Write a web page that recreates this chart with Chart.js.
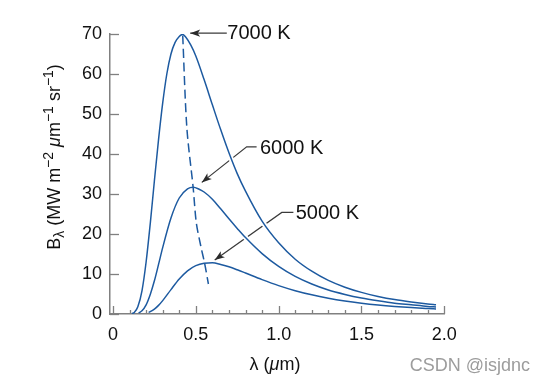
<!DOCTYPE html>
<html><head><meta charset="utf-8">
<script src="https://cdn.jsdelivr.net/npm/chart.js@4/dist/chart.umd.min.js"></script>
<style>html,body{margin:0;padding:0;background:#fff;}canvas{display:block;}</style>
</head><body>
<canvas id="c" width="545" height="385"></canvas>
<script>
// ---- data ----
const lambda7000 = [0.115,0.13,0.15,0.175,0.2,0.225,0.25,0.275,0.3,0.325,0.35,0.375,0.4,0.42,0.44,0.47,0.5,0.55,0.6,0.65,0.7,0.75,0.8,0.9,1.0,1.1,1.2,1.3,1.4,1.5,1.6,1.7,1.8,1.9,1.95];
const b7000 = [0.1,0.45,1.8,5.8,13.0,22.6,33.3,43.6,52.7,60.0,65.0,67.9,69.4,69.9,69.2,67.2,64.5,58.6,52.3,46.1,40.3,35.1,30.7,23.2,17.8,13.7,10.7,8.4,6.7,5.4,4.4,3.6,3.0,2.5,2.3];
const lambda6000 = [0.155,0.175,0.2,0.225,0.25,0.275,0.3,0.35,0.4,0.45,0.485,0.52,0.55,0.6,0.65,0.7,0.75,0.8,0.9,1.0,1.1,1.2,1.3,1.4,1.5,1.6,1.7,1.8,1.9,1.95];
const b6000 = [0.25,0.8,2.3,4.9,8.3,12.4,16.6,24.0,29.0,31.3,31.7,31.2,30.5,28.7,26.3,23.8,21.4,19.1,15.1,11.9,9.4,7.5,6.0,4.9,4.0,3.3,2.7,2.3,1.9,1.75];
const lambda5000 = [0.215,0.225,0.25,0.275,0.3,0.35,0.4,0.45,0.5,0.55,0.6,0.65,0.7,0.75,0.8,0.9,1.0,1.1,1.2,1.3,1.4,1.5,1.6,1.7,1.8,1.9,1.95];
const b5000 = [0.4,0.58,1.22,2.16,3.35,6.1,8.74,10.8,12.1,12.7,12.8,12.4,11.8,11.05,10.24,8.6,7.1,5.83,4.79,3.94,3.25,2.7,2.25,1.89,1.6,1.36,1.25];
const lambdaPeak = [0.421,0.446,0.484,0.503,0.530,0.554,0.576];
const bPeak = [69.6,46.5,31.6,22.8,17.0,12.5,7.5];

const xTickValues = [0,0.5,1.0,1.5,2.0];
const xTickLabels = ['0','0.5','1.0','1.5','2.0'];
const yTickValues = [0,10,20,30,40,50,60,70];
const curveLabels = ['7000 K','6000 K','5000 K'];

// ---- style ----
const FONT = '"Liberation Sans", Arial, Helvetica, sans-serif';
const AXIS_GRAY = '#808080';
const CURVE = '#1d5aa0';
const TEXT = '#111111';

function pts(xs, ys){ return xs.map((x,i)=>({x:x, y:ys[i]})); }

// leader lines (data coordinates) : from label to arrow tip
const leaders = [
  {label:curveLabels[0], text:[0.69,70.2], path:[[0.687,70.2],[0.466,70.2]], halo:false},
  {label:curveLabels[1], text:[0.887,41.3], path:[[0.867,41.8],[0.807,41.8],[0.536,32.9]], halo:true},
  {label:curveLabels[2], text:[1.103,25.2], path:[[1.089,25.4],[1.019,25.4],[0.614,13.5]], halo:true}
];

function richWidth(ctx, parts){ let w=0; parts.forEach(p=>{ctx.font=p.f; w+=ctx.measureText(p.t).width;}); return w; }
function drawRich(ctx, parts, cx, base){
  const w = richWidth(ctx, parts); let x = cx - w/2;
  ctx.textAlign='left'; ctx.textBaseline='alphabetic';
  parts.forEach(p=>{ ctx.font=p.f; ctx.fillText(p.t, x, base + (p.dy||0)); x += ctx.measureText(p.t).width; });
}

const deco = {
  id:'deco',
  beforeDatasetsDraw(chart){
    const ctx = chart.ctx, xs = chart.scales.x, ys = chart.scales.y;
    const P = p => [xs.getPixelForValue(p[0]), ys.getPixelForValue(p[1])];
    ctx.save();
    ctx.strokeStyle = '#3a3a3a'; ctx.lineWidth = 1.2;
    leaders.forEach(L=>{
      const pp = L.path.map(P);
      ctx.beginPath(); ctx.moveTo(pp[0][0], pp[0][1]);
      for (let i=1;i<pp.length;i++) ctx.lineTo(pp[i][0], pp[i][1]);
      ctx.stroke();
    });
    // white gaps where leaders pass under curves
    leaders.forEach(L=>{
      if (!L.halo) return;
      const pp = L.path.map(P);
      const a = pp[pp.length-2], b = pp[pp.length-1];
      const e = [a[0]+(b[0]-a[0])*0.8, a[1]+(b[1]-a[1])*0.8];
      const dx=e[0]-a[0], dy=e[1]-a[1], len=Math.hypot(dx,dy), nx=-dy/len*7, ny=dx/len*7;
      ctx.save();
      ctx.beginPath(); ctx.moveTo(a[0]+nx,a[1]+ny); ctx.lineTo(e[0]+nx,e[1]+ny); ctx.lineTo(e[0]-nx,e[1]-ny); ctx.lineTo(a[0]-nx,a[1]-ny); ctx.closePath(); ctx.clip();
      ctx.strokeStyle='#ffffff'; ctx.lineWidth=5;
      [0,1].forEach(i=>{ const m = chart.getDatasetMeta(i); ctx.beginPath(); m.dataset.path(ctx); ctx.stroke(); });
      ctx.restore();
    });
    ctx.restore();
  },
  afterDatasetsDraw(chart){
    const ctx = chart.ctx, xs = chart.scales.x, ys = chart.scales.y;
    const P = p => [xs.getPixelForValue(p[0]), ys.getPixelForValue(p[1])];
    ctx.save();
    // arrow heads + labels
    leaders.forEach(L=>{
      const pp = L.path.map(P);
      const a = pp[pp.length-2], b = pp[pp.length-1];
      const ang = Math.atan2(b[1]-a[1], b[0]-a[0]);
      const hl = 10, hw = 3.6;
      ctx.fillStyle = '#2a2a2a';
      ctx.beginPath();
      ctx.moveTo(b[0], b[1]);
      ctx.lineTo(b[0]-hl*Math.cos(ang)+hw*Math.sin(ang), b[1]-hl*Math.sin(ang)-hw*Math.cos(ang));
      ctx.lineTo(b[0]-hl*0.75*Math.cos(ang), b[1]-hl*0.75*Math.sin(ang));
      ctx.lineTo(b[0]-hl*Math.cos(ang)-hw*Math.sin(ang), b[1]-hl*Math.sin(ang)+hw*Math.cos(ang));
      ctx.closePath(); ctx.fill();
      const t = P(L.text);
      ctx.fillStyle = TEXT; ctx.font = '20px ' + FONT; ctx.textAlign='left'; ctx.textBaseline='middle';
      ctx.fillText(L.label, t[0], t[1]);
    });
    // inward ticks
    ctx.strokeStyle = AXIS_GRAY; ctx.lineWidth = 1.3;
    const bottom = chart.chartArea.bottom, left = chart.chartArea.left;
    yTickValues.forEach(v=>{ const y = Math.round(ys.getPixelForValue(v))+0.5; ctx.beginPath(); ctx.moveTo(left, y); ctx.lineTo(left+9, y); ctx.stroke(); });
    for (let k=0;k<=20;k++){
      const v = k/10; const x = Math.round(xs.getPixelForValue(v))+0.5;
      const major = (k%5===0);
      ctx.beginPath(); ctx.moveTo(x, bottom); ctx.lineTo(x, bottom-(major?8:4)); ctx.stroke();
    }
    ctx.restore();
  },
  afterDraw(chart){
    const ctx = chart.ctx;
    ctx.save();
    ctx.fillStyle = TEXT;
    // x title
    drawRich(ctx, [
      {t:'\u03BB (', f:'18px '+FONT},
      {t:'\u03BC', f:'italic 18px '+FONT},
      {t:'m)', f:'18px '+FONT}
    ], 275, 369.5);
    // y title (rotated)
    ctx.translate(53, 157); ctx.rotate(-Math.PI/2);
    drawRich(ctx, [
      {t:'B', f:'18px '+FONT},
      {t:'\u03BB', f:'14px '+FONT, dy:4},
      {t:' (MW m', f:'18px '+FONT},
      {t:'\u22122', f:'14px '+FONT, dy:-7},
      {t:' ', f:'18px '+FONT},
      {t:'\u03BC', f:'italic 18px '+FONT},
      {t:'m', f:'18px '+FONT},
      {t:'\u22121', f:'14px '+FONT, dy:-7},
      {t:' sr', f:'18px '+FONT},
      {t:'\u22121', f:'14px '+FONT, dy:-7},
      {t:')', f:'18px '+FONT}
    ], 0, 6.5);
    ctx.restore();
    // watermark
    ctx.save();
    ctx.fillStyle = '#9c9c9c'; ctx.font = '18px ' + FONT; ctx.textAlign='right'; ctx.textBaseline='alphabetic';
    ctx.fillText('CSDN @isjdnc', 530, 371);
    ctx.restore();
  }
};

const lineStyle = {borderColor:CURVE, borderWidth:1.5, pointRadius:0, fill:false, cubicInterpolationMode:'monotone'};

new Chart(document.getElementById('c'), {
  type:'line',
  data:{
    datasets:[
      Object.assign({label:curveLabels[0], data:pts(lambda7000,b7000)}, lineStyle),
      Object.assign({label:curveLabels[1], data:pts(lambda6000,b6000)}, lineStyle),
      Object.assign({label:curveLabels[2], data:pts(lambda5000,b5000)}, lineStyle),
      {label:'peak', data:pts(lambdaPeak,bPeak), borderColor:CURVE, borderWidth:1.5, borderDash:[9,4.5], pointRadius:0, tension:0.3, fill:false}
    ]
  },
  options:{
    responsive:false, animation:false, devicePixelRatio:1,
    layout:{padding:{top:34, right:100.7, bottom:0, left:0}},
    plugins:{legend:{display:false}, tooltip:{enabled:false}, title:{display:false}},
    scales:{
      x:{
        type:'linear', min:-0.018, max:2.0,
        afterBuildTicks: s => { s.ticks = xTickValues.map(v=>({value:v})); },
        afterFit: s => { s.height = 71; },
        grid:{display:false, drawTicks:false},
        border:{display:true, color:AXIS_GRAY, width:1.5},
        ticks:{padding:10, maxRotation:0, autoSkip:false, color:TEXT, font:{family:FONT, size:18}, callback:(v,i)=>xTickLabels[i]}
      },
      y:{
        type:'linear', min:0, max:70,
        afterBuildTicks: s => { s.ticks = yTickValues.map(v=>({value:v})); },
        afterFit: s => { s.width = 110; },
        grid:{display:false, drawTicks:false},
        border:{display:true, color:AXIS_GRAY, width:1.5},
        ticks:{padding:8, color:TEXT, font:{family:FONT, size:18}, callback:v=>String(v)}
      }
    }
  },
  plugins:[deco]
});
</script>
</body></html>
